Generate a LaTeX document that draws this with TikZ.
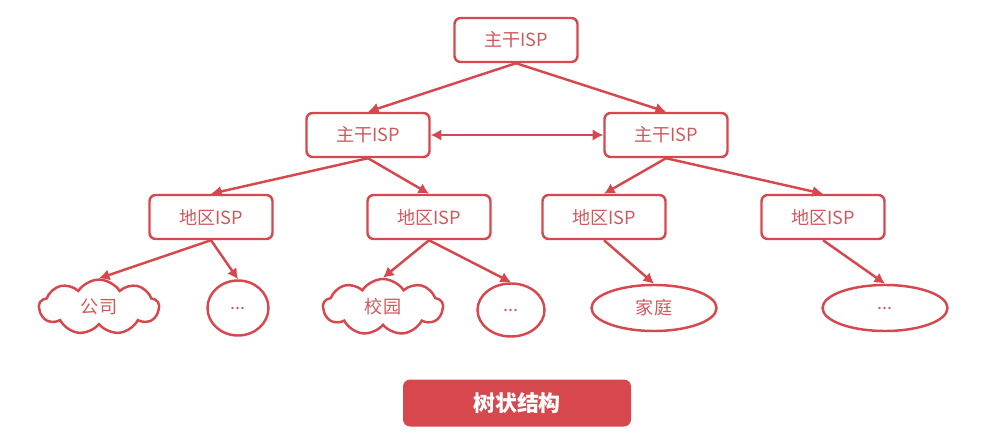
\documentclass[tikz,border=0pt]{standalone}
\usepackage{fontspec}
\usepackage{tikz}
\setmainfont{Noto Sans CJK SC}
\usetikzlibrary{arrows.meta,shapes.geometric,shapes.symbols}
\definecolor{treered}{HTML}{D6484E}
\definecolor{treetext}{HTML}{D0585C}

\tikzset{
  ispbox/.style={draw=treered,line width=1.4pt,rounded corners=3.5pt,minimum width=2.46cm,minimum height=0.88cm,text=treetext,font=\fontsize{10.3}{12}\selectfont},
  cloudleaf/.style={cloud,cloud puffs=9,cloud puff arc=115,aspect=2.4,draw=treered,line width=1.4pt,minimum width=2.4cm,minimum height=1.0cm,text=treetext,font=\fontsize{10.3}{12}\selectfont},
  ovalleaf/.style={ellipse,draw=treered,line width=1.4pt,inner sep=0pt,text=treetext,font=\fontsize{10.3}{12}\selectfont},
  treelink/.style={treered,line width=1.4pt,-{Latex[length=6pt,width=6.5pt]}},
  titlebox/.style={fill=treered,rounded corners=4pt,minimum width=4.56cm,minimum height=0.94cm,text=white,font=\fontsize{12.5}{14}\selectfont\bfseries}
}

\begin{document}
\begin{tikzpicture}[scale=1.0,>=Latex]
  \useasboundingbox (0,0) rectangle (19.9,8.92);
  % backbone and regional ISPs
  \node[ispbox] (top) at (10.32,8.12) {主干ISP};
  \node[ispbox] (midL) at (7.36,6.22) {主干ISP};
  \node[ispbox] (midR) at (13.32,6.22) {主干ISP};
  \node[ispbox] (reg1) at (4.22,4.58) {地区ISP};
  \node[ispbox] (reg2) at (8.58,4.58) {地区ISP};
  \node[ispbox] (reg3) at (12.08,4.58) {地区ISP};
  \node[ispbox] (reg4) at (16.46,4.58) {地区ISP};
  % leaves
  \node[cloudleaf] (firm) at (1.98,2.78) {公司};
  \node[ovalleaf,minimum width=1.22cm,minimum height=1.1cm] (dotsA) at (4.76,2.76) {...};
  \node[cloudleaf] (campus) at (7.66,2.78) {校园};
  \node[ovalleaf,minimum width=1.34cm,minimum height=1.06cm] (dotsB) at (10.22,2.72) {...};
  \node[ovalleaf,minimum width=2.5cm,minimum height=0.92cm] (home) at (13.08,2.76) {家庭};
  \node[ovalleaf,minimum width=2.5cm,minimum height=0.92cm] (dotsC) at (17.70,2.76) {...};
  \node[titlebox] (title) at (10.34,0.86) {树状结构};
  % links
  \draw[treelink] (top.south) -- (midL.north);
  \draw[treelink] (top.south) -- (midR.north);
  \draw[treered,line width=1.4pt,{Latex[length=6pt,width=6.5pt]}-{Latex[length=6pt,width=6.5pt]}] (midL.east) -- (midR.west);
  \draw[treelink] (midL.south) -- (reg1.north);
  \draw[treelink] (midL.south) -- (reg2.north);
  \draw[treelink] (midR.south) -- (reg3.north);
  \draw[treelink] (midR.south) -- (reg4.north);
  \draw[treelink] (reg1.south) -- (firm.north);
  \draw[treelink] (reg1.south) -- (dotsA.north);
  \draw[treelink] (reg2.south) -- (campus.north);
  \draw[treelink] (reg2.south) -- (dotsB.north);
  \draw[treelink] (reg3.south) -- (home.north);
  \draw[treelink] (reg4.south) -- (dotsC.north);
\end{tikzpicture}
\end{document}
